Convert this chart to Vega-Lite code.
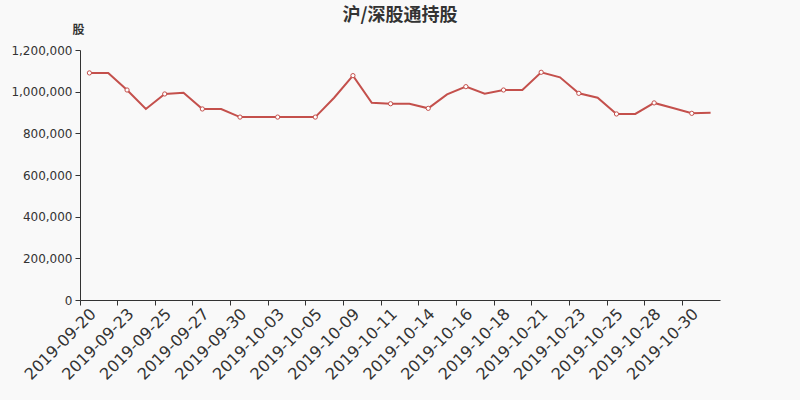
{
  "$schema": "https://vega.github.io/schema/vega-lite/v6.json",
  "width": 640,
  "height": 250,
  "autosize": {"type": "none"},
  "padding": {"left": 80, "top": 50, "right": 80, "bottom": 100},
  "background": "#f9f9f9",
  "config": {"view": {"stroke": null}, "font": "DejaVu Sans"},
  "title": {"text": "沪/深股通持股", "font": "Noto Sans CJK SC", "fontSize": 18, "fontWeight": "bold", "color": "#333333", "anchor": "middle", "offset": -2},
  "data": {"values": [
    {"date": "2019-09-20", "v": 1090000},
    {"date": "2019-09-22", "v": 1090000},
    {"date": "2019-09-23", "v": 1008000},
    {"date": "2019-09-24", "v": 917000},
    {"date": "2019-09-25", "v": 989000},
    {"date": "2019-09-26", "v": 995000},
    {"date": "2019-09-27", "v": 917000},
    {"date": "2019-09-29", "v": 917000},
    {"date": "2019-09-30", "v": 878000},
    {"date": "2019-10-02", "v": 878000},
    {"date": "2019-10-03", "v": 878000},
    {"date": "2019-10-04", "v": 878000},
    {"date": "2019-10-05", "v": 878000},
    {"date": "2019-10-08", "v": 971000},
    {"date": "2019-10-09", "v": 1077000},
    {"date": "2019-10-10", "v": 947000},
    {"date": "2019-10-11", "v": 942000},
    {"date": "2019-10-12", "v": 942000},
    {"date": "2019-10-14", "v": 920000},
    {"date": "2019-10-15", "v": 987000},
    {"date": "2019-10-16", "v": 1024000},
    {"date": "2019-10-17", "v": 990000},
    {"date": "2019-10-18", "v": 1008000},
    {"date": "2019-10-20", "v": 1008000},
    {"date": "2019-10-21", "v": 1093000},
    {"date": "2019-10-22", "v": 1069000},
    {"date": "2019-10-23", "v": 992000},
    {"date": "2019-10-24", "v": 971000},
    {"date": "2019-10-25", "v": 893000},
    {"date": "2019-10-27", "v": 893000},
    {"date": "2019-10-28", "v": 946000},
    {"date": "2019-10-29", "v": 922000},
    {"date": "2019-10-30", "v": 896000},
    {"date": "2019-10-31", "v": 899000}
  ]},
  "encoding": {
    "x": {
      "field": "date", "type": "ordinal", "sort": null,
      "scale": {"type": "band", "paddingInner": 0, "paddingOuter": 0},
      "axis": {
        "title": null,
        "values": ["2019-09-20","2019-09-23","2019-09-25","2019-09-27","2019-09-30","2019-10-03","2019-10-05","2019-10-09","2019-10-11","2019-10-14","2019-10-16","2019-10-18","2019-10-21","2019-10-23","2019-10-25","2019-10-28","2019-10-30"],
        "bandPosition": 0,
        "labelOffset": 4,
        "labelAngle": -45,
        "labelAlign": "right",
        "labelBaseline": "middle",
        "labelFontSize": 16,
        "labelColor": "#333333",
        "labelPadding": 6,
        "domainColor": "#333333",
        "tickColor": "#333333",
        "tickSize": 5,
        "labelOverlap": false,
        "grid": false
      }
    },
    "y": {
      "field": "v", "type": "quantitative",
      "scale": {"domain": [0, 1200000], "nice": false},
      "axis": {
        "title": "股",
        "titleFont": "Noto Sans CJK SC",
        "titleFontSize": 12,
        "titleFontWeight": "bold",
        "titleColor": "#333333",
        "titleAngle": 0,
        "titleX": -2,
        "titleY": -21,
        "titleAlign": "center",
        "titleBaseline": "middle",
        "values": [0, 200000, 400000, 600000, 800000, 1000000, 1200000],
        "format": ",d",
        "labelFontSize": 12,
        "labelColor": "#333333",
        "domainColor": "#333333",
        "tickColor": "#333333",
        "tickSize": 5,
        "labelPadding": 3,
        "grid": false
      }
    }
  },
  "layer": [
    {"mark": {"type": "line", "color": "#c4504c", "strokeWidth": 2}},
    {
      "transform": [{"filter": {"field": "date", "oneOf": ["2019-09-20","2019-09-23","2019-09-25","2019-09-27","2019-09-30","2019-10-03","2019-10-05","2019-10-09","2019-10-11","2019-10-14","2019-10-16","2019-10-18","2019-10-21","2019-10-23","2019-10-25","2019-10-28","2019-10-30"]}}],
      "mark": {"type": "point", "filled": true, "fill": "#ffffff", "stroke": "#c4504c", "strokeWidth": 1, "size": 18, "opacity": 1}
    }
  ]
}
